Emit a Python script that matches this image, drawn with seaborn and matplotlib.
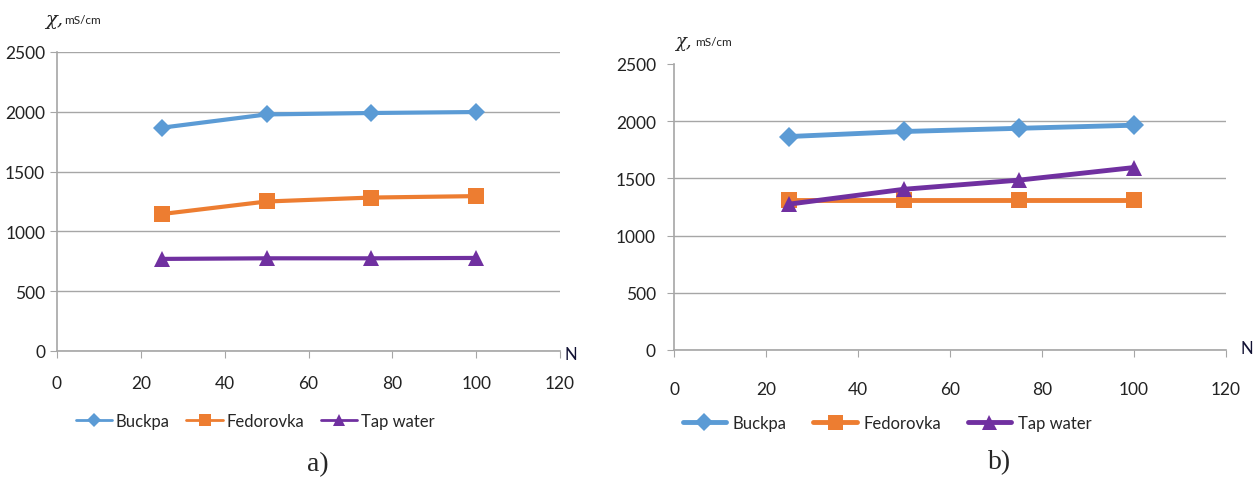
import pandas as pd
import matplotlib.pyplot as plt
import seaborn as sns

# data
n_values = [25, 50, 75, 100]
series_names = ["Buckpa", "Fedorovka", "Tap water"]

a_buckpa = [1867, 1978, 1990, 1998]
a_fedorovka = [1145, 1250, 1283, 1295]
a_tap = [770, 775, 775, 778]

b_buckpa = [1866, 1910, 1938, 1965]
b_fedorovka = [1310, 1310, 1310, 1310]
b_tap = [1275, 1405, 1485, 1595]

y_ticks = [0, 500, 1000, 1500, 2000, 2500]
x_ticks = [0, 20, 40, 60, 80, 100, 120]

colors = {"Buckpa": "#5B9BD5", "Fedorovka": "#ED7D31", "Tap water": "#7030A0"}
markers = {"Buckpa": "D", "Fedorovka": "s", "Tap water": "^"}

sns.set_style("white")
plt.rcParams['font.family'] = ['Lato', 'DejaVu Sans']

fig = plt.figure(figsize=(12.6, 4.81), dpi=100)
ax_a = fig.add_axes([57 / 1260, 1 - 352 / 481, 503 / 1260, 299 / 481])
ax_b = fig.add_axes([674 / 1260, 1 - 351 / 481, 552 / 1260, 286 / 481])


def draw(ax, data, lw, msizes):
    for name, vals in zip(series_names, data):
        sns.lineplot(x=n_values, y=vals, ax=ax, color=colors[name], marker=markers[name],
                     markersize=msizes[name], markeredgewidth=0, linewidth=lw, label=name)
    ax.set_xlim(0, 120)
    ax.set_ylim(0, 2500)
    ax.set_xticks(x_ticks)
    ax.set_yticks(y_ticks)
    ax.grid(axis="y", color="#a6a6a6", linewidth=1)
    ax.set_axisbelow(True)
    for s in ["top", "right"]:
        ax.spines[s].set_visible(False)
    for s in ["left", "bottom"]:
        ax.spines[s].set_color("#a6a6a6")
        ax.spines[s].set_linewidth(1.2)
    ax.tick_params(axis="both", which="major", length=5, color="#a6a6a6", labelsize=12.5,
                   labelcolor="#222222", direction="out", bottom=True, left=True)
    ax.set_xlabel("")
    ax.set_ylabel("")


draw(ax_a, [a_buckpa, a_fedorovka, a_tap], 3, {"Buckpa": 9, "Fedorovka": 11, "Tap water": 11})
draw(ax_b, [b_buckpa, b_fedorovka, b_tap], 3.5, {"Buckpa": 10, "Fedorovka": 12, "Tap water": 12})

ax_a.tick_params(axis="x", pad=12)
ax_b.tick_params(axis="x", pad=17)
ax_b.tick_params(axis="y", pad=8)
ax_b.get_ygridlines()[-1].set_visible(False)

# axis titles
fig.text(45 / 1260, 1 - 20 / 481, "χ,", fontsize=14, style="italic", family="DejaVu Serif", va="center")
fig.text(64 / 1260, 1 - 20 / 481, "mS/cm", fontsize=8.5, va="center", color="#222222")
fig.text(675 / 1260, 1 - 42 / 481, "χ,", fontsize=13, style="italic", family="DejaVu Serif", va="center")
fig.text(695 / 1260, 1 - 43 / 481, "mS/cm", fontsize=8.5, va="center", color="#222222")
fig.text(565 / 1260, 1 - 355 / 481, "N", fontsize=12, va="center", color="#111133")
fig.text(1241 / 1260, 1 - 349 / 481, "N", fontsize=12, va="center", color="#111133")

# legends
leg_a = ax_a.legend(loc="center", bbox_to_anchor=(255 / 1260, 1 - 422 / 481), bbox_transform=fig.transFigure,
                    ncol=3, frameon=False, fontsize=12, handlelength=2.2, columnspacing=1.0,
                    handletextpad=0.2, markerscale=0.75)
for line in leg_a.get_lines():
    line.set_linewidth(2)
ax_b.legend(loc="center", bbox_to_anchor=(887 / 1260, 1 - 424 / 481), bbox_transform=fig.transFigure,
            ncol=3, frameon=False, fontsize=12, handlelength=2.6, columnspacing=1.6, handletextpad=0.4,
            markerscale=0.9)

# captions
fig.text(318 / 1260, 1 - 465 / 481, "a)", fontsize=20, family="Liberation Serif", ha="center", va="center")
fig.text(1000 / 1260, 1 - 463 / 481, "b)", fontsize=20, family="Liberation Serif", ha="center", va="center")

plt.savefig("out.png", dpi=100)
